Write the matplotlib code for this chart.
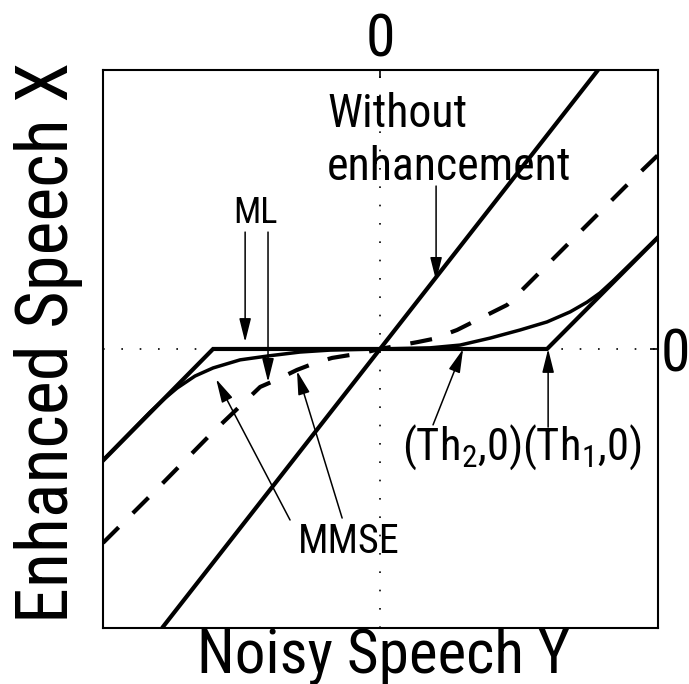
import numpy as np
import matplotlib
matplotlib.use('Agg')
import matplotlib.pyplot as plt

plt.rcParams['font.family'] = ['Roboto Condensed', 'Liberation Sans', 'DejaVu Sans']
plt.rcParams['mathtext.default'] = 'regular'

# input/output curves (noisy amplitude Y -> enhanced amplitude X)
ident_x = [-1.0, 1.0]
ident_y = [-1.0, 1.0]

ml_x = [-1.271, -0.766, 0.766, 1.275]
ml_y = [-0.40, 0.0, 0.0, 0.40]

mmse1_x = [-1.271, -1.055, -0.986, -0.931, -0.849, -0.766, -0.642, -0.514, -0.367,
           -0.229, 0.0, 0.229, 0.367, 0.505, 0.642, 0.766, 0.872, 0.950, 1.009,
           1.069, 1.275]
mmse1_y = [-0.398, -0.226, -0.176, -0.140, -0.097, -0.068, -0.039, -0.025, -0.011,
           -0.004, 0.0, 0.004, 0.014, 0.039, 0.068, 0.097, 0.133, 0.168, 0.201,
           0.244, 0.401]

mmse2_x = [-1.271, -1.041, -0.771, -0.550, -0.468, -0.381, -0.298, -0.220, -0.078,
           0.0, 0.174, 0.243, 0.353, 0.427, 0.583, 0.711, 0.849, 0.986, 1.124, 1.275]
mmse2_y = [-0.695, -0.516, -0.301, -0.136, -0.108, -0.075, -0.050, -0.032, -0.014,
           0.0, 0.025, 0.036, 0.068, 0.097, 0.158, 0.258, 0.366, 0.473, 0.581, 0.695]

XLIM = (-1.271, 1.275)
YLIM = (-1.0, 1.0)

fig = plt.figure(figsize=(6.89, 6.84), dpi=100)
ax = fig.add_axes([0.1495, 0.0819, 0.8055, 0.8158])

# zero reference lines
ax.axhline(0, color='black', lw=1.2, ls=(0, (1, 10)), zorder=1)
ax.axvline(0, color='black', lw=1.2, ls=(0, (1, 10)), zorder=1)

ax.plot(ident_x, ident_y, color='black', lw=3, solid_capstyle='butt')
ax.plot(ml_x, ml_y, color='black', lw=3, solid_joinstyle='miter')
ax.plot(mmse1_x, mmse1_y, color='black', lw=2.5)
ax.plot(mmse2_x, mmse2_y, color='black', lw=3, ls=(0, (5.3, 4.8)))

ax.set_xlim(*XLIM)
ax.set_ylim(*YLIM)

for sp in ax.spines.values():
    sp.set_linewidth(1.5)

ax.xaxis.tick_top()
ax.yaxis.tick_right()
ax.set_xticks([0])
ax.set_yticks([0])
ax.set_xticklabels(['0'])
ax.set_yticklabels(['0'])
ax.tick_params(direction='in', length=6, width=1.2, labelsize=43)
ax.tick_params(axis='x', pad=1)
ax.tick_params(axis='y', pad=2)

fig.text(0.556, 0.0175, 'Noisy Speech Y', fontsize=44, ha='center', va='baseline')
fig.text(0.070, 0.500, 'Enhanced Speech X', fontsize=52, rotation=90,
         ha='center', va='center')

arrow = dict(arrowstyle='-|>,head_length=1.44,head_width=0.36', lw=1.1,
             color='black', shrinkA=0, shrinkB=0, mutation_scale=10)

ax.text(-0.573, 0.452, 'ML', fontsize=26, ha='center', va='baseline')
ax.annotate('', xy=(-0.619, 0.025), xytext=(-0.619, 0.419), arrowprops=arrow)
ax.annotate('', xy=(-0.514, -0.118), xytext=(-0.514, 0.419), arrowprops=arrow)

ax.text(-0.243, 0.796, 'Without', fontsize=33, ha='left', va='baseline')
ax.text(-0.243, 0.606, 'enhancement', fontsize=33, ha='left', va='baseline')
ax.annotate('', xy=(0.257, 0.244), xytext=(0.257, 0.584), arrowprops=arrow)

ax.text(-0.376, -0.731, 'MMSE', fontsize=29, ha='left', va='baseline')
ax.annotate('', xy=(-0.752, -0.108), xytext=(-0.413, -0.613), arrowprops=arrow)
ax.annotate('', xy=(-0.381, -0.079), xytext=(-0.174, -0.606), arrowprops=arrow)

ax.text(0.101, -0.398, r'(Th$_{2}$,0)', fontsize=32, ha='left', va='baseline')
ax.text(0.651, -0.398, r'(Th$_{1}$,0)', fontsize=32, ha='left', va='baseline')
ax.annotate('', xy=(0.381, 0.0), xytext=(0.243, -0.272), arrowprops=arrow)
ax.annotate('', xy=(0.771, 0.0), xytext=(0.771, -0.280), arrowprops=arrow)

fig.savefig('out.png', dpi=100)
